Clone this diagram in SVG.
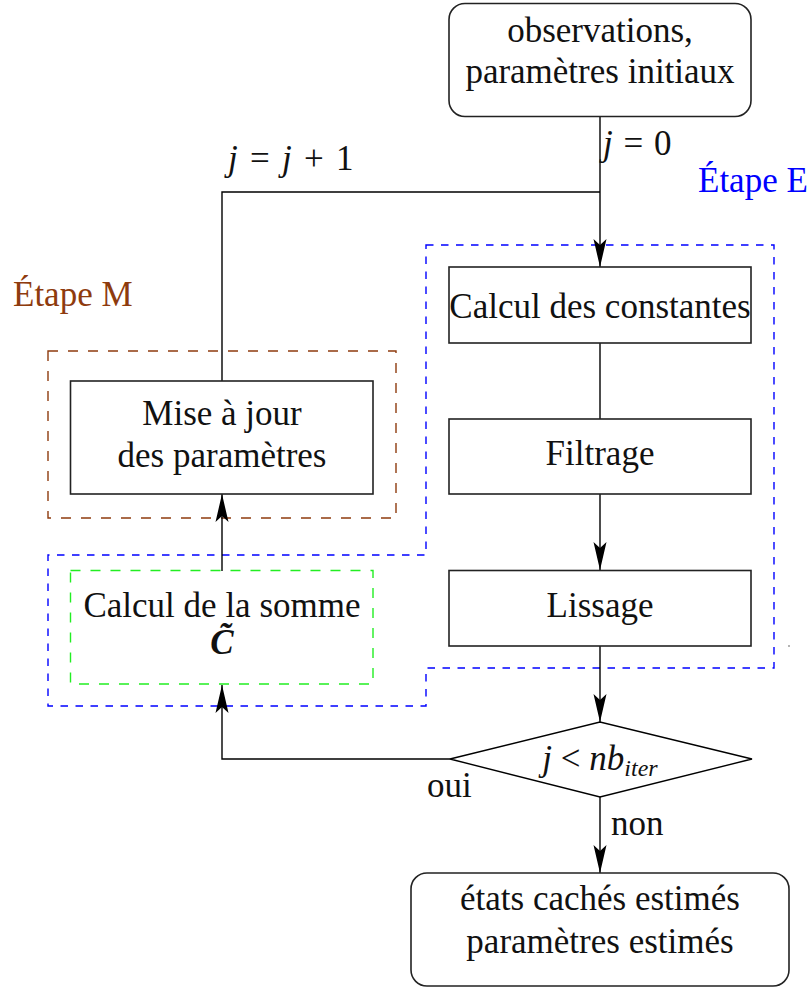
<svg xmlns="http://www.w3.org/2000/svg" width="807" height="988" viewBox="0 0 807 988">
<style>
  text { font-family: "Liberation Serif", "Times New Roman", serif; font-size: 35px; fill: #111; }
  .c { text-anchor: middle; }
  .m { font-style: italic; }
  .box { fill: #fff; stroke: #222; stroke-width: 1.6; }
  .wire { fill: none; stroke: #000; stroke-width: 1.4; }
  .arr { marker-end: url(#ah); }
  .blue { fill: none; stroke: #0000ff; stroke-width: 1.4; stroke-dasharray: 7.5 7.5; }
  .brown { fill: none; stroke: #8e3b0e; stroke-width: 1.4; stroke-dasharray: 10 10; }
  .green { fill: none; stroke: #22ee22; stroke-width: 1.4; stroke-dasharray: 10 10; }
</style>
<defs>
  <marker id="ah" markerUnits="userSpaceOnUse" viewBox="0 0 28 14" refX="28" refY="7" markerWidth="28" markerHeight="14" orient="auto">
    <path d="M0,0.5 L28,7 L0,13.5 L6,7 Z" fill="#000"/>
  </marker>
</defs>

<g id="regions">
  <path class="blue" d="M426,245 H774 V668 H426 V706 H48 V555 H426 Z"/>
  <rect class="brown" x="48" y="351" width="348" height="167"/>
  <circle cx="789" cy="646" r="0.8" fill="#555"/>
</g>

<g id="connectors">
  <path class="wire arr" d="M600,117 V267"/>
  <path class="wire" d="M222,381 V192 H600"/>
  <path class="wire" d="M600,343 V419"/>
  <path class="wire arr" d="M600,494 V570"/>
  <path class="wire arr" d="M600,646 V722"/>
  <path class="wire arr" d="M450,759 H222 V685"/>
  <path class="wire arr" d="M222,571 V494"/>
  <path class="wire arr" d="M600,797 V873"/>
</g>

<g id="start">
  <rect class="box" x="449" y="3.5" width="302" height="113" rx="16"/>
  <text class="c" x="600" y="42">observations,</text>
  <text class="c" x="600" y="83">paramètres initiaux</text>
</g>

<g id="constantes">
  <rect class="box" x="449" y="267" width="302" height="76"/>
  <text class="c" x="600" y="318">Calcul des constantes</text>
</g>

<g id="filtrage">
  <rect class="box" x="449" y="419" width="302" height="75"/>
  <text class="c" x="600" y="465">Filtrage</text>
</g>

<g id="lissage">
  <rect class="box" x="449" y="570.5" width="302" height="75.5"/>
  <text class="c" x="600" y="617">Lissage</text>
</g>

<g id="test">
  <polygon points="450,759 600,722 752,759 600,797" fill="#fff" stroke="#000" stroke-width="1.4"/>
  <text class="c" x="600" y="770"><tspan class="m">j</tspan> &lt; <tspan class="m">nb</tspan><tspan class="m" font-size="24" dy="6">iter</tspan></text>
</g>

<g id="fin">
  <rect class="box" x="411" y="873" width="378" height="113" rx="16"/>
  <text class="c" x="600" y="910">états cachés estimés</text>
  <text class="c" x="600" y="953">paramètres estimés</text>
</g>

<g id="miseajour">
  <rect class="box" x="70.5" y="381" width="302.5" height="113"/>
  <text class="c" x="222" y="425">Mise à jour</text>
  <text class="c" x="222" y="467">des paramètres</text>
</g>

<g id="somme">
  <rect class="green" x="70.5" y="570.5" width="302.5" height="113.5"/>
  <text class="c" x="222" y="617">Calcul de la somme</text>
  <text class="c" x="222" y="654" font-weight="bold" font-style="italic">C̃</text>
</g>

<g id="labels">
  <text x="603" y="155" xml:space="preserve" word-spacing="2"><tspan class="m">j</tspan> = 0</text>
  <text x="228" y="170" xml:space="preserve" word-spacing="3.5"><tspan class="m">j</tspan> = <tspan class="m">j</tspan> + 1</text>
  <text x="698" y="192" style="fill:#0000ff">Étape E</text>
  <text x="13" y="306" style="fill:#8e3b0e">Étape M</text>
  <text x="427" y="797">oui</text>
  <text x="611" y="835">non</text>
</g>
</svg>
